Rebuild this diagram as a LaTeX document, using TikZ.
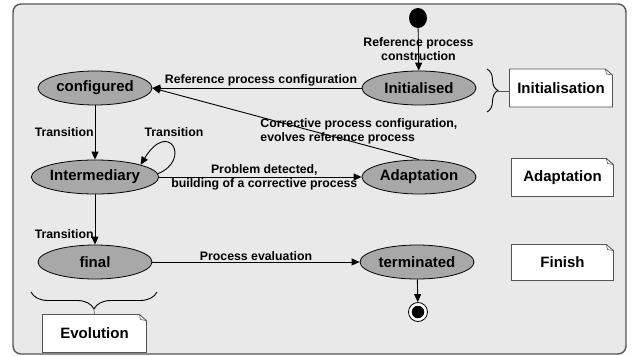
\documentclass[tikz,border=0pt]{standalone}
\usepackage{fontspec}
\setmainfont{Liberation Sans}
\usetikzlibrary{arrows.meta,shapes.geometric,decorations.pathreplacing,backgrounds}
\definecolor{framegray}{RGB}{233,233,233}
\definecolor{stategray}{RGB}{168,168,168}
\definecolor{edgegray}{RGB}{85,85,85}
\tikzset{
  state/.style={ellipse, draw, line width=0.8pt, fill=stategray, minimum width=114pt,
    minimum height=34pt, inner sep=0pt, font=\fontsize{15}{17}\selectfont\bfseries},
  lbl/.style={font=\fontsize{12.3}{14}\selectfont\bfseries, inner sep=1pt, align=center},
  notebox/.style={minimum width=102pt, minimum height=37pt, inner sep=0pt,
    font=\fontsize{15}{17}\selectfont\bfseries},
  notedraw/.style={draw=edgegray, fill=white, line width=0.8pt},
  endstate/.style={circle, draw, line width=0.8pt, fill=white, minimum size=19pt, inner sep=0pt},
  enddot/.style={circle, fill=black, minimum size=12.5pt, inner sep=0pt},
}
\newcommand{\foldnote}[1]{%
  \draw[notedraw] (#1.south west) -- (#1.north west) -- ([xshift=-7pt]#1.north east)
    -- ([yshift=-6pt]#1.north east) -- (#1.south east) -- cycle;
  \draw[edgegray, line width=0.6pt] ([xshift=-7pt]#1.north east)
    -- ([xshift=-6pt,yshift=-5pt]#1.north east) -- ([yshift=-6pt]#1.north east);}
\begin{document}
\begin{tikzpicture}[x=1pt, y=-1pt, line width=0.9pt]
  \useasboundingbox (0,0) rectangle (632,356);
  \begin{scope}[on background layer]
    \draw[edgegray, fill=framegray, line width=1.4pt, rounded corners=8pt] (13,4) rectangle (626,354);
  \end{scope}
  \draw
    (95,88) node[state] (configured) {configured}
    (419,88) node[state] (initialised) {Initialised}
    (95,177) node[state] (intermediary) {Intermediary}
    (419,177) node[state] (adaptation) {Adaptation}
    (95,262) node[state] (final) {final}
    (417,262) node[state] (terminated) {terminated}
    (418,18) node[ellipse, fill=black, minimum width=18pt, minimum height=20pt, inner sep=0pt] (start) {}
    (418,312) node[endstate] (stop) {}
    (418,312) node[enddot] (stopdot) {};
  \draw
    (561,88) node[notebox] (initnote) {Initialisation}
    (562.5,177.5) node[notebox, minimum width=101pt] (adaptnote) {Adaptation}
    (562.5,262.5) node[notebox, minimum width=101pt, minimum height=35pt] (finishnote) {Finish}
    (94.5,333.5) node[notebox, minimum width=103pt] (evonote) {Evolution};
  \begin{scope}[on background layer]
    \foldnote{initnote}
    \foldnote{adaptnote}
    \foldnote{finishnote}
    \foldnote{evonote}
  \end{scope}
  \begin{scope}[-{Triangle[length=8pt,width=7pt]}]
    \draw (start) to node[lbl] {Reference process\\construction} (initialised);
    \draw (initialised) to node[lbl, above, xshift=4pt] {Reference process configuration} (configured);
    \draw (adaptation.north) to (configured.east);
    \draw (configured) to node[lbl, left] {Transition} (intermediary);
    \draw (intermediary.3) .. controls +(34,-14) and +(28,-46) .. (intermediary.15);
    \draw (intermediary) to node[lbl, xshift=4pt] {Problem detected,\\building of a corrective process} (adaptation);
    \draw (intermediary) to node[lbl, left, pos=0.8] {Transition} (final);
    \draw (final) to node[lbl, above] {Process evaluation} (terminated);
    \draw (terminated) to (stop);
  \end{scope}
  \node[lbl] (looplbl) at (174,132) {Transition};
  \node[lbl, align=left, anchor=west] (corrective) at (259,131) {Corrective process configuration,\\evolves reference process};
  \draw[decorate, decoration={brace, amplitude=11pt}] (487,69) -- (487,112);
  \draw[decorate, decoration={brace, amplitude=17pt}] (157,292) -- (31,292);
  \coordinate (initbrace) at (498,91);
  \coordinate (evobrace) at (94,310);
  \draw[edgegray, line width=0.6pt] (initbrace) -- (initbrace -| initnote.west);
  \draw[edgegray, line width=0.6pt] (evobrace) -- (evonote.north);
\end{tikzpicture}
\end{document}
